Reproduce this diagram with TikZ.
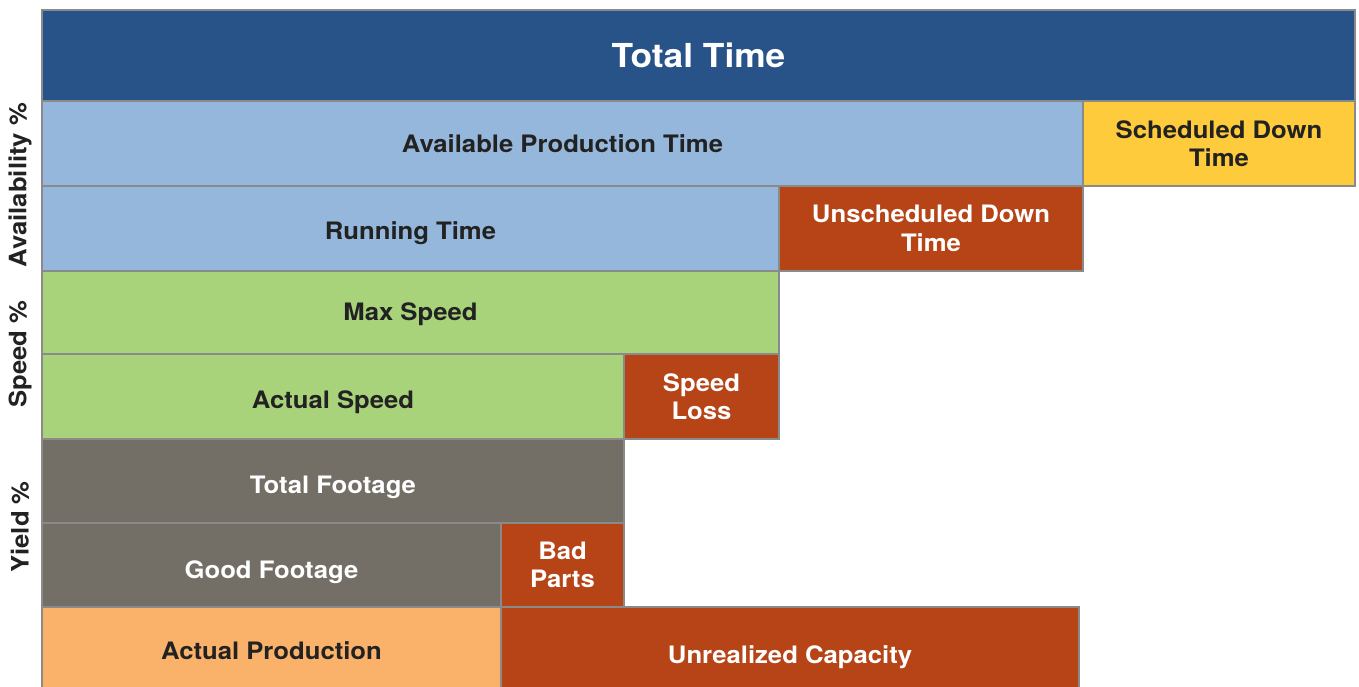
\documentclass[tikz,border=0pt]{standalone}
\usepackage{fontspec}
\setmainfont[FakeStretch=1.07]{TeX Gyre Heros}
\definecolor{darkblue}{HTML}{285389}
\definecolor{lightblue}{HTML}{96B7DC}
\definecolor{sunyellow}{HTML}{FDCB3C}
\definecolor{rust}{HTML}{B64417}
\definecolor{leafgreen}{HTML}{A8D37B}
\definecolor{stonegrey}{HTML}{736F67}
\definecolor{peach}{HTML}{FAB16A}
\definecolor{edgegrey}{HTML}{8A8A8A}
\definecolor{inkdark}{HTML}{222222}
\begin{document}
\begin{tikzpicture}
        [x=1pt,y=-1pt,every node/.style={draw=edgegrey,line width=2pt,shape=rectangle,anchor=north west,inner sep=0,align=center,font=\fontsize{24}{28.5}\selectfont\bfseries},
        darkcell/.style={text=white}, lightcell/.style={text=inkdark}, textdrop/.style={text height=#1,text depth=0pt},
        sidelabel/.style={draw=none,rotate=90,anchor=center,text=inkdark}]

        \useasboundingbox (0,0) rectangle (1359,686);

        \node[darkcell,fill=darkblue,minimum width=1313pt,minimum height=91pt,font=\fontsize{33}{38}\selectfont\bfseries] (total) at (41,9) {Total Time};
        \node[lightcell,fill=lightblue,minimum width=1041pt,minimum height=85pt,textdrop=17pt] (avail) at (41,100) {Available Production Time};
        \node[lightcell,fill=sunyellow,minimum width=272pt,minimum height=85pt] (sched) at (1082,100) {Scheduled Down\\Time};
        \node[lightcell,fill=lightblue,minimum width=737pt,minimum height=85pt,textdrop=21pt] (run) at (41,185) {Running Time};
        \node[darkcell,fill=rust,minimum width=304pt,minimum height=85pt] (unsched) at (778,185) {Unscheduled Down\\Time};
        \node[lightcell,fill=leafgreen,minimum width=737pt,minimum height=83pt,textdrop=16pt] (maxspeed) at (41,270) {Max Speed};
        \node[lightcell,fill=leafgreen,minimum width=582pt,minimum height=85pt,textdrop=23pt] (actspeed) at (41,353) {Actual Speed};
        \node[darkcell,fill=rust,minimum width=155pt,minimum height=85pt] (speedloss) at (623,353) {Speed\\Loss};
        \node[darkcell,fill=stonegrey,minimum width=582pt,minimum height=84pt,textdrop=24pt] (totfoot) at (41,438) {Total Footage};
        \node[darkcell,fill=stonegrey,minimum width=459pt,minimum height=84pt,textdrop=26pt] (goodfoot) at (41,522) {Good Footage};
        \node[darkcell,fill=rust,minimum width=123pt,minimum height=84pt] (badparts) at (500,522) {Bad\\Parts};
        \node[lightcell,fill=peach,minimum width=459pt,minimum height=88pt,textdrop=17pt] (actprod) at (41,606) {Actual Production};
        \node[darkcell,fill=rust,minimum width=578pt,minimum height=88pt,textdrop=24pt] (unreal) at (500,606) {Unrealized Capacity};

        \node[sidelabel] (availpct) at (20,185) {Availability \%};
        \node[sidelabel] (speedpct) at (20,354) {Speed \%};
        \node[sidelabel] (yieldpct) at (20,527) {Yield \%};
      \end{tikzpicture}
\end{document}
